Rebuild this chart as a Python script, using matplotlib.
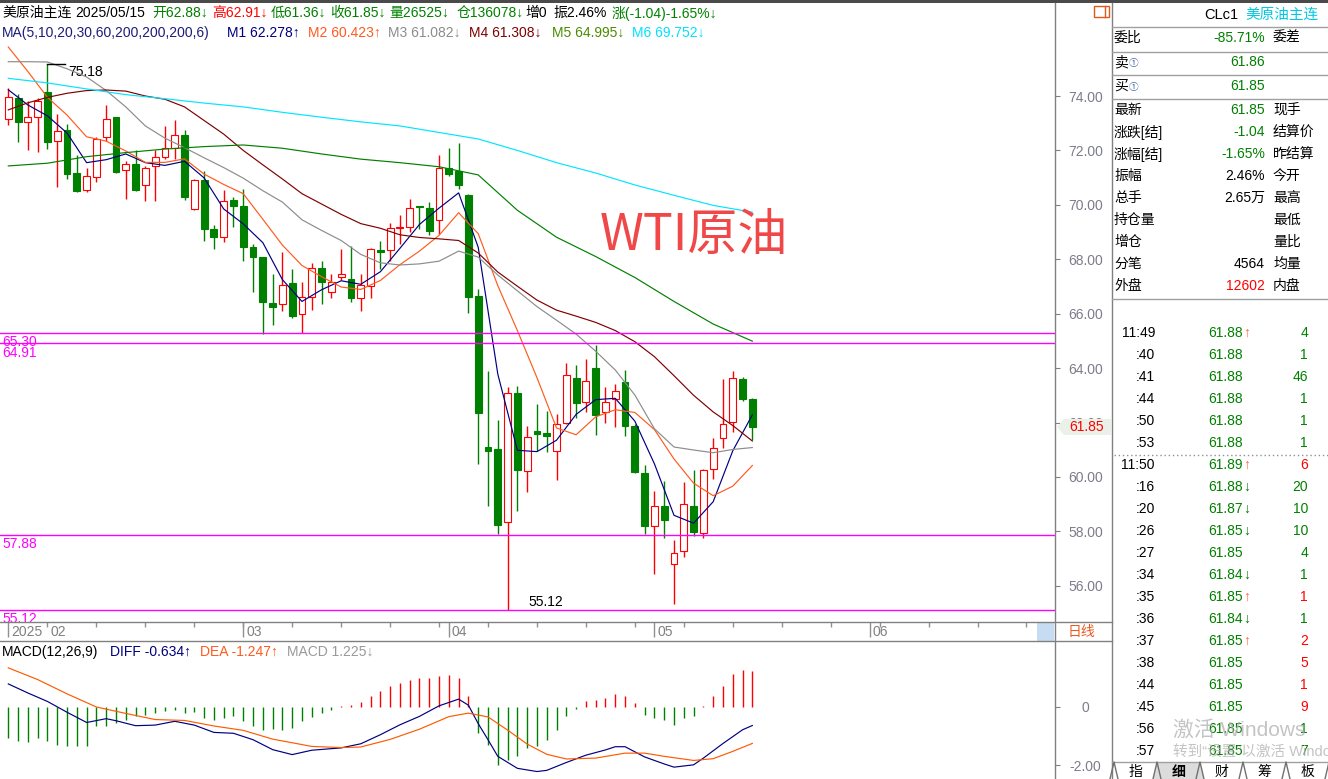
import numpy as np
import matplotlib.pyplot as plt
from matplotlib.patches import Rectangle, Polygon

plt.rcParams['font.family'] = ['Liberation Sans', 'Noto Sans CJK SC']
plt.rcParams['axes.unicode_minus'] = False

W, H = 1328, 779

# daily bars, 2025-01-28 .. 2025-05-15 (index 0..76)
opens = [73.17, 73.93, 73.04, 73.21, 74.14, 72.36, 72.75, 71.18, 70.56, 71.01,
         72.51, 73.21, 71.27, 71.50, 70.72, 71.41, 71.77, 72.09, 72.55, 69.84,
         70.91, 69.12, 68.81, 70.19, 69.96, 68.45, 68.07, 66.40, 66.35, 67.11,
         65.97, 66.62, 67.67, 66.78, 67.35, 67.28, 66.58, 67.02, 68.33, 68.35,
         69.16, 69.17, 69.93, 69.90, 69.43, 71.37, 71.24, 70.36, 66.64, 61.10,
         61.03, 58.34, 63.09, 60.21, 61.69, 61.60, 60.97, 61.99, 63.63, 62.74,
         64.00, 62.39, 62.88, 63.50, 61.86, 60.16, 58.19, 58.95, 56.81, 57.27,
         58.95, 57.95, 60.29, 61.43, 62.02, 63.59, 62.88]
highs = [74.29, 74.09, 73.80, 73.91, 75.18, 73.34, 72.97, 71.83, 71.37, 72.51,
         73.67, 73.24, 71.61, 72.00, 71.41, 72.03, 72.88, 73.11, 72.75, 70.95,
         71.24, 69.27, 70.55, 70.28, 70.59, 68.55, 68.07, 67.47, 68.25, 67.63,
         67.17, 67.87, 67.94, 67.46, 68.38, 68.49, 67.44, 68.42, 68.66, 69.34,
         69.64, 70.22, 69.94, 70.09, 71.83, 72.09, 72.29, 70.41, 66.91, 63.90,
         62.10, 63.30, 63.33, 61.89, 62.69, 62.43, 62.32, 64.20, 64.12, 64.35,
         64.85, 63.31, 63.43, 63.92, 61.93, 60.44, 59.47, 59.85, 57.70, 59.80,
         60.26, 60.29, 61.44, 63.61, 63.89, 63.66, 62.91]
lows = [72.95, 72.32, 72.03, 71.96, 72.07, 70.65, 70.95, 70.46, 70.48, 70.85,
        72.36, 71.18, 70.23, 70.52, 70.13, 70.13, 71.70, 71.70, 70.19, 69.80,
        68.68, 68.36, 68.62, 69.17, 67.92, 66.78, 65.25, 65.60, 66.10, 65.84,
        65.30, 66.15, 66.36, 66.59, 67.24, 66.43, 66.10, 66.58, 67.66, 67.92,
        68.55, 68.99, 69.12, 68.88, 68.91, 71.05, 70.59, 66.02, 60.46, 58.95,
        57.89, 55.12, 58.75, 59.43, 60.94, 60.92, 59.89, 61.93, 62.15, 62.39,
        61.53, 61.99, 61.82, 61.49, 60.13, 57.92, 56.42, 57.76, 55.33, 57.07,
        57.83, 57.77, 59.92, 61.05, 61.66, 62.78, 61.36]
closes = [73.96, 73.04, 73.21, 73.80, 72.32, 72.72, 71.15, 70.52, 71.05, 72.42,
          73.17, 71.20, 71.50, 70.55, 71.35, 71.74, 72.09, 72.55, 70.28, 70.91,
          69.12, 68.81, 70.13, 69.97, 68.46, 68.07, 66.43, 66.26, 67.04, 65.93,
          66.61, 67.67, 67.15, 67.17, 67.45, 66.58, 67.04, 68.38, 68.26, 69.14,
          69.18, 69.89, 69.92, 69.05, 71.36, 71.15, 70.74, 66.61, 62.35, 60.97,
          58.25, 63.09, 60.25, 61.47, 61.57, 61.52, 61.95, 63.74, 62.71, 63.53,
          62.29, 62.75, 63.15, 61.89, 60.18, 58.21, 58.95, 58.41, 57.19, 59.00,
          57.96, 60.25, 61.05, 61.93, 63.63, 62.88, 61.85]

# moving averages
ma_fast_idx = list(range(0, 77, 2))
ma5 = [74.23, 73.67, 73.27, 72.64, 71.55, 71.66, 71.87, 71.55, 71.45, 71.60,
       70.99, 69.85, 69.30, 68.61, 67.25, 66.45, 66.88, 67.21, 67.08, 67.54,
       68.40, 69.28, 69.88, 70.44, 68.44, 63.78, 60.98, 60.93, 61.35, 62.30,
       62.84, 62.89, 62.05, 60.48, 58.59, 58.30, 59.09, 60.96, 62.28]
ma10 = [75.80, 74.90, 73.95, 73.30, 72.50, 72.34, 71.98, 71.56, 71.56, 71.69,
        71.13, 70.75, 70.41, 69.47, 68.52, 67.77, 67.36, 66.98, 66.89, 67.22,
        67.80, 68.30, 68.88, 69.71, 68.94, 67.03, 65.38, 63.65, 61.80, 61.55,
        62.21, 62.47, 62.37, 61.74, 60.66, 59.77, 59.31, 59.66, 60.42]
ma20 = [75.26, 75.26, 75.25, 75.00, 74.70, 74.20, 73.60, 72.90, 72.45, 72.10,
        71.73, 71.37, 70.98, 70.52, 70.10, 69.45, 69.06, 68.69, 68.18, 67.87,
        67.79, 67.83, 67.93, 68.30, 68.08, 67.42, 66.84, 66.26, 65.76, 65.25,
        64.62, 63.93, 63.01, 61.77, 61.10, 60.99, 60.89, 61.01, 61.08]
ma30 = [73.49, 73.75, 73.95, 74.10, 74.20, 74.22, 74.18, 74.00, 73.88, 73.60,
        73.10, 72.60, 72.00, 71.47, 70.95, 70.41, 70.03, 69.65, 69.31, 69.14,
        68.90, 68.80, 68.75, 68.69, 68.23, 67.53, 67.01, 66.50, 66.13, 65.91,
        65.68, 65.38, 64.97, 64.42, 63.72, 63.00, 62.39, 61.89, 61.32]
ma_slow_idx = list(range(0, 77, 4))
ma60 = [71.43, 71.53, 71.77, 71.92, 72.05, 72.14, 72.20, 72.08, 71.87, 71.68,
        71.55, 71.40, 71.10, 69.80, 68.81, 68.10, 67.33, 66.45, 65.62, 64.99]
ma200 = [74.65, 74.48, 74.26, 74.05, 73.90, 73.74, 73.60, 73.40, 73.22, 73.05,
         72.90, 72.66, 72.42, 72.00, 71.55, 71.17, 70.73, 70.35, 69.98, 69.73]

# MACD(12,26,9)
diff_idx = [0, 2, 4, 6, 8, 10, 11, 13, 15, 17, 19, 21, 23, 25, 27, 29, 31, 34, 36, 38,
            40, 42, 44, 46, 47, 48, 49, 50, 52, 54, 55, 57, 59, 61, 62, 63, 65, 67, 68,
            70, 71, 73, 75, 76]
diff = [0.79, 0.48, 0.19, -0.18, -0.53, -0.40, -0.47, -0.64, -0.62, -0.49, -0.62,
        -0.87, -0.90, -1.12, -1.46, -1.63, -1.48, -1.40, -1.26, -0.95, -0.61, -0.32,
        0.04, 0.27, 0.06, -0.57, -1.12, -1.69, -2.10, -2.21, -2.17, -1.90, -1.65,
        -1.47, -1.36, -1.36, -1.71, -1.95, -2.06, -1.98, -1.75, -1.25, -0.78, -0.634]
dea_idx = [0, 3, 6, 9, 12, 15, 18, 21, 24, 27, 31, 34, 36, 39, 42, 45, 47, 49, 51, 53,
           55, 57, 60, 63, 65, 67, 70, 72, 74, 76]
dea = [1.34, 0.94, 0.45, 0.00, -0.22, -0.43, -0.46, -0.65, -0.80, -1.10, -1.35, -1.39,
       -1.37, -1.11, -0.76, -0.33, -0.21, -0.34, -0.79, -1.27, -1.62, -1.78, -1.75,
       -1.58, -1.58, -1.69, -1.83, -1.77, -1.52, -1.247]
macd_hist = [-1.06, -1.18, -1.21, -1.06, -1.18, -1.29, -1.35, -1.35, -1.33, -0.66,
             -0.66, -0.55, -0.43, -0.32, -0.26, -0.21, -0.15, -0.09, -0.21, -0.18,
             -0.38, -0.43, -0.38, -0.32, -0.49, -0.64, -0.78, -0.75, -0.78, -0.72,
             -0.49, -0.34, -0.21, -0.09, 0.02, 0.08, 0.16, 0.39, 0.54, 0.71,
             0.82, 0.94, 0.99, 0.99, 1.07, 1.11, 0.99, 0.37, -0.89, -1.31,
             -2.00, -1.81, -1.69, -1.41, -1.35, -1.12, -0.78, -0.32, -0.07, 0.19,
             0.25, 0.31, 0.45, 0.37, 0.14, -0.26, -0.38, -0.46, -0.61, -0.38,
             -0.32, 0.03, 0.37, 0.71, 1.14, 1.28, 1.225]

# marked price levels
levels = [65.30, 64.91, 57.88, 55.12]
price_ticks = [56, 58, 60, 62, 64, 66, 68, 70, 72, 74]
last_price = 61.85

# date axis
month_idx = [0, 4, 24, 45, 66, 88]
month_lab = ['2025', '02', '03', '04', '05', '06']
month_major = [0, 24, 45, 66, 88]
week_idx = list(range(4, 107, 5))

# header texts
head1 = [('美原油主连', 'k'), ('2025/05/15', 'k'), ('开62.88↓', 'g'), ('高62.91↓', 'r'),
         ('低61.36↓', 'g'), ('收61.85↓', 'g'), ('量26525↓', 'g'), ('仓136078↓', 'g'),
         ('增0', 'k'), ('振2.46%', 'k'), ('涨(-1.04)-1.65%↓', 'g')]
head2 = ['MA(5,10,20,30,60,200,200,200,6)', 'M1 62.278↑', 'M2 60.423↑', 'M3 61.082↓',
         'M4 61.308↓', 'M5 64.995↓', 'M6 69.752↓']
macd_head = ['MACD(12,26,9)', 'DIFF -0.634↑', 'DEA -1.247↑', 'MACD 1.225↓']

# right panel
quote_top = [('委比', '-85.71%', '委差'), ('卖', '61.86', ''), ('买', '61.85', '')]
quote_rows = [('最新', '61.85', '现手'), ('涨跌[结]', '-1.04', '结算价'),
              ('涨幅[结]', '-1.65%', '昨结算'), ('振幅', '2.46%', '今开'),
              ('总手', '2.65万', '最高'), ('持仓量', '', '最低'), ('增仓', '', '量比'),
              ('分笔', '4564', '均量'), ('外盘', '12602', '内盘')]
quote_col = ['g', 'g', 'g', 'k', 'k', 'k', 'k', 'k', 'r']
tick_time = ['11:49', ':40', ':41', ':44', ':50', ':53', '11:50', ':16', ':20', ':26',
             ':27', ':34', ':35', ':36', ':37', ':38', ':44', ':45', ':56', ':57']
tick_price = ['61.88', '61.88', '61.88', '61.88', '61.88', '61.88', '61.89', '61.88',
              '61.87', '61.85', '61.85', '61.84', '61.85', '61.84', '61.85', '61.85',
              '61.85', '61.85', '61.85', '61.85']
tick_arrow = ['↑', '', '', '', '', '', '↑', '↓', '↓', '↓', '', '↓', '↑', '↓', '↑', '',
              '', '', '', '']
tick_vol = [4, 1, 46, 1, 1, 1, 6, 20, 10, 10, 4, 1, 1, 1, 2, 5, 1, 9, 1, 7]
tick_buy = [0, 0, 0, 0, 0, 0, 1, 0, 0, 0, 0, 0, 1, 0, 1, 1, 1, 1, 0, 0]
tabs = ['指', '细', '财', '筹', '板']

RED = '#ff0000'
GRN = '#008000'
CMAP = {'k': 'black', 'g': '#008000', 'r': '#ff0000'}
MA_COL = ['#000080', '#ff5a1e', '#8c8c8c', '#800000', '#008000', '#00e6ff']
HEAD2_COL = ['#1c1c7c', '#000080', '#ff5a1e', '#8c8c8c', '#800000', '#4b8b00', '#00e0ff']

fig = plt.figure(figsize=(W / 100, H / 100), dpi=100)
fig.patch.set_facecolor('white')


def box(x0, y0, x1, y1):
    return fig.add_axes([x0 / W, 1 - y1 / H, (x1 - x0) / W, (y1 - y0) / H])


x_lo, x_hi = -8.3 / 9.79, (1055 - 8.3) / 9.79
ax = box(0, 3, 1055, 622)
ax_d = box(0, 622, 1055, 641)
ax_m = box(0, 642, 1055, 779)
for a in (ax, ax_d, ax_m):
    a.set_xlim(x_lo, x_hi)
    for s in a.spines.values():
        s.set_visible(False)
    a.set_xticks([])
    a.patch.set_alpha(0)

# ---- main chart ----
ax.set_ylim(74 - (622 - 96) / 27.21, 74 + (96 - 3) / 27.21)
for i in range(len(opens)):
    up = closes[i] >= opens[i]
    col = RED if up else GRN
    ax.vlines(i, lows[i], highs[i], color=col, lw=1, zorder=2)
    lo, hi = min(opens[i], closes[i]), max(opens[i], closes[i])
    ax.add_patch(Rectangle((i - 0.35, lo), 0.7, max(hi - lo, 0.02),
                           facecolor='white' if up else GRN, edgecolor=col, lw=0.8, zorder=3))

ax.plot(ma_fast_idx, ma5, color=MA_COL[0], lw=0.85, zorder=4)
ax.plot(ma_fast_idx, ma10, color=MA_COL[1], lw=0.85, zorder=4)
ax.plot(ma_fast_idx, ma20, color=MA_COL[2], lw=0.85, zorder=4)
ax.plot(ma_fast_idx, ma30, color=MA_COL[3], lw=0.85, zorder=4)
ax.plot(ma_slow_idx, ma60, color=MA_COL[4], lw=0.85, zorder=4)
ax.plot(ma_slow_idx, ma200, color=MA_COL[5], lw=0.85, zorder=4)

for lv in levels:
    ax.axhline(lv, color='#ff00ff', lw=1, zorder=5)
    ax.text(-0.62, lv - 2.5 / 27.21, f'{lv:.2f}', color='#ff00ff', fontsize=10,
            ha='left', va='top', zorder=5)

hi_i = int(np.argmax(highs))
lo_i = int(np.argmin(lows))
ax.plot([hi_i, hi_i + 1.8], [highs[hi_i], highs[hi_i]], color='black', lw=1, zorder=5)
ax.text(hi_i + 2.1, highs[hi_i] - 0.29, f'{highs[hi_i]:.2f}', fontsize=10, va='center')
ax.text(lo_i + 2.1, lows[lo_i] + 0.28, f'{lows[lo_i]:.2f}', fontsize=10, va='center')

ax.yaxis.tick_right()
ax.set_yticks(price_ticks)
ax.set_yticklabels([f'{v:.2f}' for v in price_ticks])
ax.tick_params(axis='y', length=3.6, width=0.8, color='#808080', labelcolor='#7c7c8c',
               labelsize=10, pad=18.4)
for lb in ax.get_yticklabels():
    lb.set_horizontalalignment('center')

# ---- date strip ----
ax_d.set_ylim(1, 0)
ax_d.set_yticks([])
ax_d.vlines(week_idx, 0, 0.25, color='#909090', lw=1)
ax_d.vlines(month_major, 0, 0.8, color='#909090', lw=1)
for k, lab in zip(month_idx, month_lab):
    ax_d.text(k + 0.3, 0.52, lab, color='#808080', fontsize=10, va='center', ha='left')

# ---- MACD ----
ax_m.set_ylim(-(779 - 707) / 29.2, (707 - 642) / 29.2)
hist_x = list(range(len(macd_hist)))
ax_m.vlines(hist_x, 0, macd_hist, colors=[RED if v > 0 else GRN for v in macd_hist], lw=1)
ax_m.plot(diff_idx, diff, color='#000080', lw=0.85)
ax_m.plot(dea_idx, dea, color='#ff5a00', lw=0.85)
ax_m.yaxis.tick_right()
ax_m.set_yticks([0, -2])
ax_m.set_yticklabels(['0', '-2.00'])
ax_m.tick_params(axis='y', length=3.6, width=0.8, color='#808080', labelcolor='#7c7c8c',
                 labelsize=10, pad=18.4)
for lb in ax_m.get_yticklabels():
    lb.set_horizontalalignment('center')

# ---- overlay in pixel coordinates ----
ov = box(0, 0, W, H)
ov.set_xlim(0, W)
ov.set_ylim(H, 0)
ov.axis('off')
ov.patch.set_alpha(0)


def t(x, y, s, color='black', size=10, ha='left', **kw):
    ov.text(x, y, s, color=color, fontsize=size, ha=ha, va='center', **kw)


ov.add_patch(Rectangle((0, 0), W, 3, color='#4a4a4a', lw=0))
ov.plot([1055, 1055], [3, H], color='#808080', lw=1)
ov.plot([1112, 1112], [3, H], color='#808080', lw=1)
ov.plot([0, 1112], [622, 622], color='#808080', lw=1)
ov.plot([0, 1112], [641, 641], color='#808080', lw=1)
ov.add_patch(Rectangle((1094, 6), 15, 11, facecolor='none', edgecolor='#e05a1a', lw=1))
ov.plot([1105, 1105], [6, 17], color='#e05a1a', lw=1)

for (s, c), x in zip(head1, [2, 75, 152, 212, 271, 330, 389, 457, 525, 553, 612]):
    t(x, 13, s, CMAP[c])
for s, c, x in zip(head2, HEAD2_COL, [2, 227, 308, 388, 469, 552, 632]):
    t(x, 33, s, c)
for s, c, x in zip(macd_head, ['black', '#000080', '#ff5a1e', '#999999'], [2, 110, 200, 287]):
    t(x, 652, s, c)

t(600, 236, 'WTI原油', '#f04848', size=36, family=['Noto Sans CJK SC'])

# last price marker on the axis
ov.add_patch(Polygon([(1057, 427), (1064, 419), (1111, 419), (1111, 435), (1064, 435)],
                     closed=True, facecolor='#e9f1e9', edgecolor='none', zorder=6))
t(1069, 427, f'{last_price:.2f}', RED, zorder=7)

# date strip extras
ov.add_patch(Rectangle((1037, 623), 17, 18, facecolor='#c5dcf2', edgecolor='none'))
t(1068, 632, '日线', '#e85a20')

# right panel
t(1204, 15, 'CLc1', 'black', size=10.5)
t(1245, 15, '美原油主连', '#00c8e0', size=10.5)
for yy in [27, 52, 75, 99, 299]:
    ov.plot([1112, W], [yy, yy], color='#a0a0a0', lw=1)
for (a, b, c), yy in zip(quote_top, [38, 62, 86]):
    t(1114, yy, a)
    if c:
        t(1273, yy, c)
    t(1265, yy, b, '#008000', ha='right')
for yy in [62, 86]:
    t(1129, yy + 1, '①', '#4a6aa8', size=7)
for (a, b, c), col, k in zip(quote_rows, quote_col, range(len(quote_rows))):
    yy = 110 + 22 * k
    t(1114, yy, a)
    t(1265, yy, b, CMAP[col], ha='right')
    t(1273, yy, c)

for k in range(len(tick_time)):
    yy = 333 + 22 * k
    t(1155, yy, tick_time[k], ha='right')
    t(1243, yy, tick_price[k], '#008000', ha='right')
    if tick_arrow[k]:
        t(1243, yy, tick_arrow[k], '#ff6a3d' if tick_arrow[k] == '↑' else '#008000')
    t(1308, yy, str(tick_vol[k]), RED if tick_buy[k] else '#008000', ha='right')
ov.plot([1114, W], [455, 455], color='#909090', lw=1, ls=(0, (1, 2)))

# bottom tabs
bounds = [1114, 1157, 1200, 1243, 1286, 1329]
ov.add_patch(Polygon([(1157, 762), (1200, 762), (1204, 779), (1153, 779)],
                     closed=True, facecolor='#dcdcdc', edgecolor='none'))
ov.plot([1112, W], [762, 762], color='#a0a0a0', lw=1)
for b in bounds:
    ov.plot([b - 4, b, b + 4], [779, 762, 779], color='#707070', lw=1)
for k, s in enumerate(tabs):
    t((bounds[k] + bounds[k + 1]) / 2, 772, s, ha='center',
      fontweight='bold' if s == '细' else 'normal')

# OS watermark
t(1173, 730, '激活 Windows', '#b0b0b0', size=15, alpha=0.75, zorder=8)
t(1173, 752, '转到“设置”以激活 Windows。', '#b0b0b0', size=10.5, alpha=0.75, zorder=8)

fig.savefig('out.png', dpi=100)
